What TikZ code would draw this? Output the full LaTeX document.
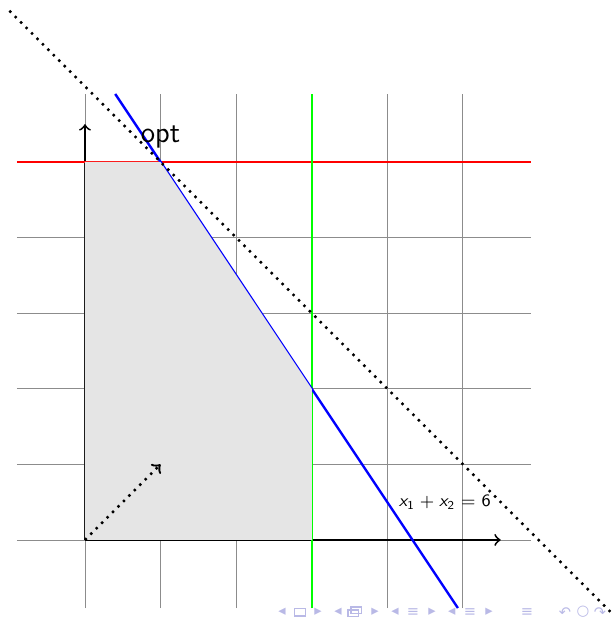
\documentclass[tikz,border=0pt]{standalone}
\usepackage{amsmath}
\usepackage{fontspec}
\newfontfamily\navfont{DejaVu Sans}
\definecolor{navc}{RGB}{185,185,230}
\definecolor{polyfill}{gray}{0.9}
\begin{document}
\begin{tikzpicture}[x=1cm,y=1cm,
  gridline/.style={draw=gray!90,line width=0.35pt},
  axisline/.style={->,line width=0.7pt},
  conline/.style={line width=0.9pt},
  objline/.style={dotted,line width=0.9pt},
  navsym/.style={text=navc,font=\navfont\fontsize{5.5}{5.5}\selectfont,inner sep=0pt}]
\useasboundingbox (-1.124,-1.019) rectangle (6.971,7.143);
% grid
\draw[gridline] (-0.9,-0.9) grid (5.9,5.9);
% axes
\coordinate (O) at (0,0);
\coordinate (xe) at (5.5,0);
\coordinate (ye) at (0,5.5);
\draw[axisline] (O) -- (xe);
\draw[axisline] (O) -- (ye);
% constraint lines
\coordinate (r1) at (-0.9,5);
\coordinate (r2) at (5.9,5);
\coordinate (g1) at (3,-0.9);
\coordinate (g2) at (3,5.9);
\coordinate (b1) at (0.4,5.9);
\coordinate (b2) at (4.933,-0.9);
\draw[conline,red] (r1) -- (r2);
\draw[conline,green] (g1) -- (g2);
\draw[conline,blue] (b1) -- (b2);
% feasible region
\coordinate (p1) at (3,0);
\coordinate (p2) at (3,2);
\coordinate (p3) at (1,5);
\coordinate (p4) at (0,5);
\fill[polyfill] (O) -- (p1) -- (p2) -- (p3) -- (p4) -- cycle;
% objective
\coordinate (d1) at (-1,7);
\coordinate (d2) at (7,-1);
\coordinate (c) at (1,1);
\draw[objline] (d1) -- (d2);
\draw[objline,->] (O) -- (c);
% labels
\node[font=\sffamily\fontsize{11}{13}\selectfont,inner sep=0pt] (opt) at (1,5.33) {opt};
\node[font=\sffamily\fontsize{6.5}{7.5}\selectfont,inner sep=0pt] (eq) at (4.76,0.5)
  {$\textsl{x}_{\textsf{1}}+\textsl{x}_{\textsf{2}}=\textsf{6}$};
% navigation symbols
\foreach \xx/\ss [count=\i] in {2.606/◂,3.082/▸,3.347/◂,3.836/▸,4.101/◂,4.339/≡,4.590/▸,4.854/◂,5.093/≡,5.344/▸,5.847/≡,6.349/↶,6.587/○,6.812/↷}
  \node[navsym] (nav\i) at (\xx,-0.955) {\ss};
\node[draw=navc,line width=0.5pt,minimum width=0.14cm,minimum height=0.1cm,inner sep=0pt] (navbox) at (2.844,-0.955) {};
\node[draw=navc,line width=0.5pt,minimum width=0.14cm,minimum height=0.09cm,inner sep=0pt] (navpa) at (3.55,-0.97) {};
\node[draw=navc,line width=0.5pt,minimum width=0.14cm,minimum height=0.09cm,inner sep=0pt] (navpb) at (3.59,-0.93) {};
\end{tikzpicture}
\end{document}
